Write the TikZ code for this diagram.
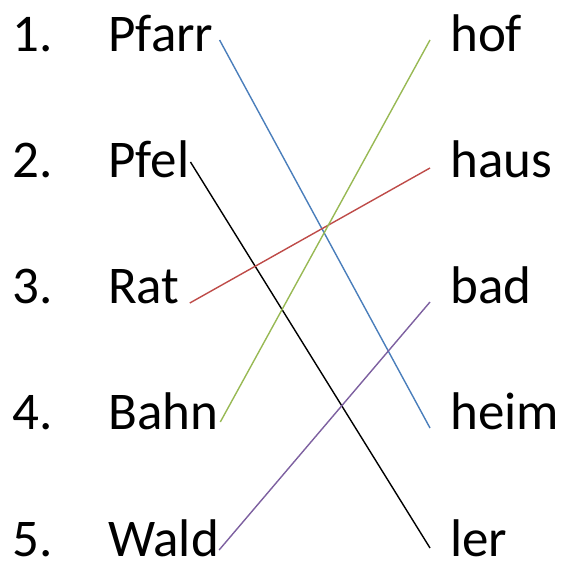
\documentclass[tikz,border=0pt]{standalone}
\usepackage{fontspec}
\setmainfont{Carlito}
\definecolor{lineblue}{HTML}{4A7EBB}
\definecolor{linered}{HTML}{BE4B48}
\definecolor{linegreen}{HTML}{98B954}
\definecolor{linepurple}{HTML}{7D60A0}
\begin{document}
\begin{tikzpicture}[x=1pt, y=1pt,
		word/.style = {inner sep=0pt, anchor=base west, font=\fontsize{53}{60}\selectfont},
		pair/.style = {line width=1.4pt}]
	\useasboundingbox (0,0) rectangle (561,565);
	% left column
	\foreach \n/\w/\name [count=\i from 0] in {1/Pfarr/pfarr, 2/Pfel/pfel, 3/Rat/rat, 4/Bahn/bahn, 5/Wald/wald} {
		\node[word] (num\n) at (12, 513-126*\i) {\n.};
		\node[word] (\name) at (108, 513-126*\i) {\w};
	}
	% right column
	\foreach \w [count=\i from 0] in {hof, haus, bad, heim, ler} {
		\node[word] (\w) at (450, 513-126*\i) {\w};
	}
	\draw[pair, lineblue] ([shift={(6,12)}]pfarr.base east) -- ([shift={(-20,2)}]heim.base west);
	\draw[pair, black] ([shift={(1,16)}]pfel.base east) -- ([shift={(-20,8)}]ler.base west);
	\draw[pair, linered] ([shift={(10,1)}]rat.base east) -- ([shift={(-20,10)}]haus.base west);
	\draw[pair, linegreen] ([shift={(2,8)}]bahn.base east) -- ([shift={(-20,12)}]hof.base west);
	\draw[pair, linepurple] ([shift={(0,6)}]wald.base east) -- ([shift={(-20,2)}]bad.base west);
\end{tikzpicture}
\end{document}
